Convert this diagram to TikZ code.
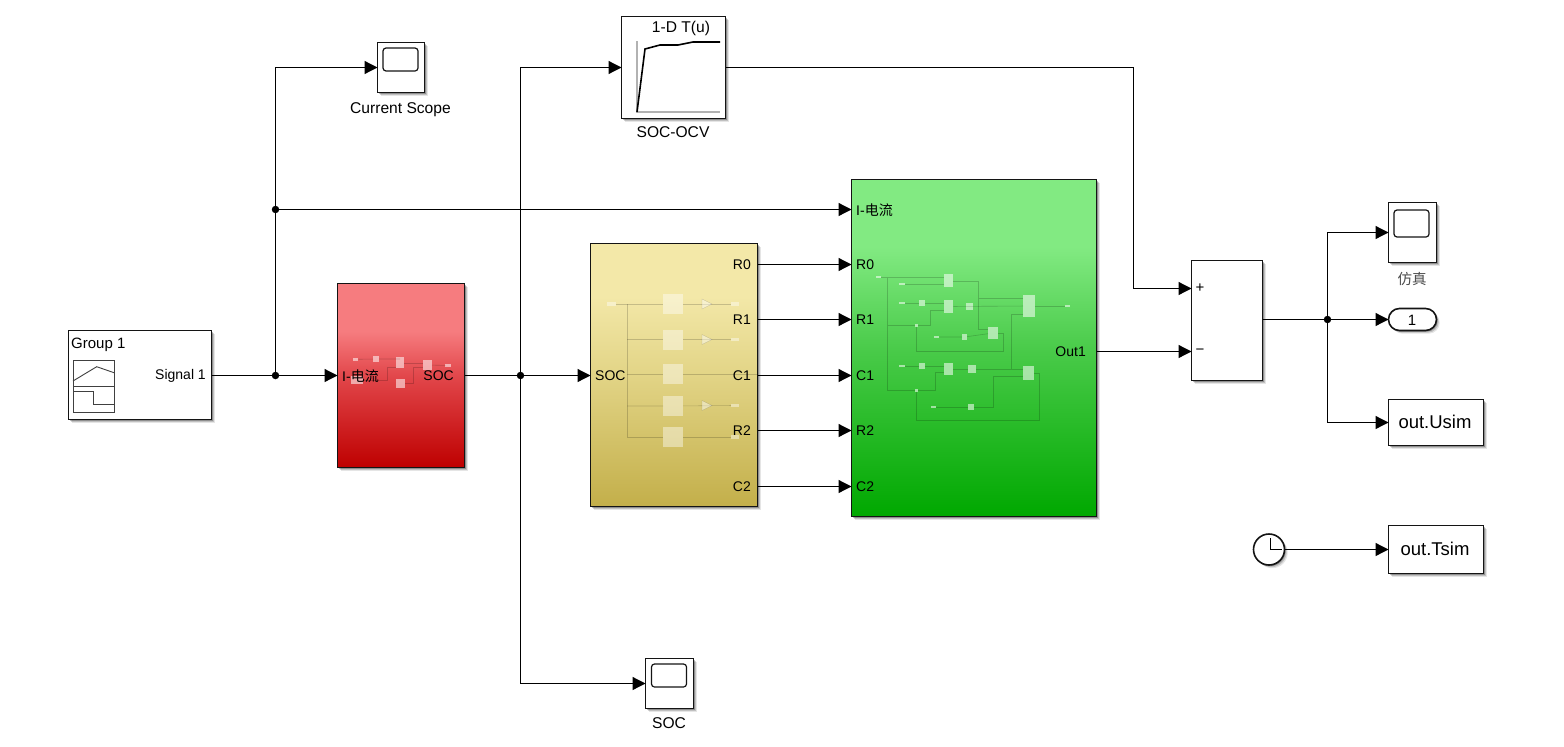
\documentclass[tikz,border=0pt]{standalone}
\usepackage{fontspec}
\setmainfont{Liberation Sans}
\newfontfamily\cjk{Noto Sans CJK SC}
\usetikzlibrary{arrows.meta,shadows,calc}
\definecolor{rT}{HTML}{F67C7F}\definecolor{rM}{HTML}{E2474B}\definecolor{rB}{HTML}{BE0000}
\definecolor{yT}{HTML}{F3E8A8}\definecolor{yM}{HTML}{E2D486}\definecolor{yB}{HTML}{C3AF4A}
\definecolor{gT}{HTML}{82EA82}\definecolor{gM}{HTML}{4ACB4A}\definecolor{gB}{HTML}{00A800}
\definecolor{edge}{HTML}{141414}
\pgfdeclareverticalshading{redgrad}{100bp}{color(0bp)=(rB);color(25bp)=(rB);color(50bp)=(rM);color(62bp)=(rT);color(75bp)=(rT);color(100bp)=(rT)}
\pgfdeclareverticalshading{yelgrad}{100bp}{color(0bp)=(yB);color(25bp)=(yB);color(50bp)=(yM);color(65bp)=(yT);color(75bp)=(yT);color(100bp)=(yT)}
\pgfdeclareverticalshading{grngrad}{100bp}{color(0bp)=(gB);color(25bp)=(gB);color(50bp)=(gM);color(65bp)=(gT);color(75bp)=(gT);color(100bp)=(gT)}
\tikzset{
  blockbox/.style={draw=edge,line width=1.6pt,fill=white,rectangle,inner sep=0pt,outer sep=0pt,anchor=north west,
    drop shadow={shadow xshift=3.2pt,shadow yshift=-3.2pt,opacity=.10,fill=black},
    drop shadow={shadow xshift=2.2pt,shadow yshift=-2.2pt,opacity=.16,fill=black},
    drop shadow={shadow xshift=1.2pt,shadow yshift=-1.2pt,opacity=.25,fill=black}},
  sig/.style={draw=black,line width=1.25pt,-{Triangle[length=13pt,width=13pt]}},
  wire/.style={draw=black,line width=1.25pt},
  jdot/.style={circle,fill=black,inner sep=0pt,minimum size=7.5pt},
  lab/.style={font=\fontsize{14}{14}\selectfont,inner sep=0pt,text=black},
  cap15/.style={font=\fontsize{15.6}{16}\selectfont,inner sep=0pt,text=black},
  big/.style={font=\fontsize{18.5}{19}\selectfont},
  screen/.style={draw=edge,line width=1.2pt,rounded corners=3pt,inner sep=0pt,minimum width=35pt},
  thumb/.style={fill=white,fill opacity=.55,inner sep=0pt,rectangle,outer sep=0pt},
  ythumb/.style={fill=white,fill opacity=.42,inner sep=0pt,rectangle,outer sep=0pt},
  twire/.style={draw=black,draw opacity=.18,line width=.6pt},
  tri/.style={fill=white,fill opacity=.45,draw=black,draw opacity=.18,line width=.4pt}
}
\newcommand{\thb}[5]{\node[thumb,minimum width=#4pt,minimum height=#5pt] (#1) at (#2,#3) {};}
\newcommand{\ythb}[5]{\node[ythumb,minimum width=#4pt,minimum height=#5pt] (#1) at (#2,#3) {};}
\begin{document}
\begin{tikzpicture}[x=1pt,y=-1pt]
\useasboundingbox (0,0) rectangle (1564,747);
\fill[white] (0,0) rectangle (1564,747);
% ---- main blocks
\node[blockbox,minimum width=143pt,minimum height=89pt] (grp) at (68.5,330.5) {};
\node[blockbox,minimum width=47pt,minimum height=50pt] (cs) at (377.5,42.5) {};
\node[blockbox,minimum width=104pt,minimum height=102pt] (lut) at (621.5,16.5) {};
\node[blockbox,minimum width=127pt,minimum height=184pt,shading=redgrad] (red) at (337.5,283.5) {};
\node[blockbox,minimum width=167pt,minimum height=263pt,shading=yelgrad] (yel) at (590.5,243.5) {};
\node[blockbox,minimum width=245pt,minimum height=337pt,shading=grngrad] (grn) at (851.5,179.5) {};
\node[blockbox,minimum width=71pt,minimum height=120pt] (sum) at (1191.5,260.5) {};
\node[blockbox,minimum width=48pt,minimum height=60pt] (sim) at (1388.5,202.5) {};
\node[blockbox,minimum width=48pt,minimum height=22pt,rounded corners=11pt] (oport) at (1388.5,308.5) {};
\node[blockbox,minimum width=95pt,minimum height=46pt] (usim) at (1388.5,399.5) {};
\node[blockbox,minimum width=95pt,minimum height=48pt] (tsim) at (1388.5,525.5) {};
\node[blockbox,minimum width=48pt,minimum height=50pt] (ss) at (645.5,658.5) {};
\node[blockbox,circle,anchor=center,minimum size=31pt] (clk) at (1269,549.5) {};
% ---- scope screens
\node[screen,minimum height=23pt] (csS) at (400.5,59.5) {};
\node[screen,minimum height=27pt] (simS) at (1411.5,223.5) {};
\node[screen,minimum height=23pt] (ssS) at (669,675.5) {};
% ---- signal builder icon
\coordinate (ic1) at (73,360); \coordinate (ic2) at (114,412);
\draw[draw=black!75,line width=.9pt] (ic1) rectangle (ic2);
\draw[draw=black!75,line width=.9pt] (73,386) -- (114,386);
\draw[draw=black!75,line width=.9pt] (73,381) -- (96.7,366.7) -- (114,372.7);
\draw[draw=black!75,line width=.9pt] (73,391.3) -- (93.3,391.3) -- (93.3,404.3) -- (114,404.3);
% ---- lookup icon
\draw[draw=black!30,line width=1.2pt] (637,41) -- (637,112) -- (720,112);
\draw[draw=black,line width=1.6pt] (637,112) -- (645,49) -- (660,45) -- (678,45) -- (693,42) -- (720,42);
% ---- clock hands
\draw[draw=black,line width=.9pt] (1270.7,538) -- (1270.7,549.3) -- (1281.7,549.3);
% ---- red thumbnail
\thb{rIn}{355.5}{359.3}{5.5}{2.5}\thb{rA}{376}{359}{6}{6}\thb{rS}{400}{362.5}{8}{11}
\thb{rL}{357}{380}{12}{8}\thb{rG}{400.5}{383.5}{9}{9}\thb{rP}{427.5}{365}{9}{10}\thb{rOut}{448}{365.5}{5.5}{2.5}
\draw[twire] (rIn) -- (rA) -- (rA -| rS);
\draw[twire] (rS.east |- 0,363) -- (rP.west |- 0,363);
\draw[twire] (rP) -- (rOut);
\draw[twire] (rL) -| (387,367) -- (rS.west |- 0,367);
\draw[twire] (rG) -| (413,367) -- (rP.west |- 0,367);
% ---- yellow thumbnail
\coordinate (yJ) at (627,304);\coordinate (yJb) at (627,437);
\ythb{yIn}{611.5}{304}{8.5}{3.5}
\ythb{y1}{673}{304}{20}{20}\ythb{y2}{673}{339.5}{20}{20}\ythb{y3}{673}{374}{20}{20}\ythb{y4}{673}{406}{20}{20}\ythb{y5}{673}{437}{20}{20}
\ythb{yo1}{735}{304}{8.5}{3.5}\ythb{yo2}{735}{339.5}{8.5}{3.5}\ythb{yo4}{735}{405.5}{8.5}{3.5}\ythb{yo5}{735}{437}{8.5}{3.5}
\draw[twire] (yIn) -- (yJ) -- (yJb) -- (y5) -- (yo5);
\draw[twire] (yJ) -- (y1) -- (yo1);
\draw[twire] (yJ |- y2) -- (y2) -- (yo2);
\draw[twire] (yJ |- y3) -- (y3) -- (yel.east |- y3);
\draw[twire] (yJ |- y4) -- (y4) -- (yo4);
\foreach \yy in {304,339.5,405.5}{\filldraw[tri] (702,\yy-5) -- (712,\yy) -- (702,\yy+5) -- cycle;}
% ---- green thumbnail
\thb{gI1}{878.5}{277}{5.5}{2.5}\thb{gI2}{902}{284}{6}{2.5}\thb{gI3}{902}{303}{6}{2.5}
\thb{gA}{922}{303}{6.5}{6.5}\thb{gS1}{948.5}{280.5}{9.5}{13.5}\thb{gS2}{948.5}{306.5}{9.5}{13}
\thb{gB}{969.5}{306.5}{7.5}{7.5}\thb{gC}{993}{333}{10}{12.5}\thb{gBig}{1029}{306}{12}{22.5}
\thb{gOut}{1067.5}{306}{5.5}{2.5}\thb{gI4}{936.5}{337}{5.5}{2.5}\thb{gD}{964.5}{337}{5.5}{6}
\thb{gI5}{902}{366}{6}{2.5}\thb{gE}{922}{366}{6.5}{6.5}\thb{gS3}{948.5}{369}{9.5}{12.5}\thb{gF}{972}{369}{8}{8}
\thb{gBig2}{1028.5}{373}{11}{14.5}\thb{gI6}{933.5}{407}{5.5}{2.5}\thb{gH}{971}{407}{6.5}{6.5}
\thb{gJ1}{916.5}{325.5}{3}{3}\thb{gJ2}{916.5}{390.5}{3}{3}
\coordinate (gT) at (887.7,277);\coordinate (gTb) at (887.7,390.5);
\coordinate (gU) at (978.5,281);\coordinate (gV) at (1011.5,314);
\draw[twire] (gI1) -- (gT) -- (gTb) -- (gJ2);
\draw[twire] (gT) -- (gS1.west |- gT);
\draw[twire] (gI2) -- (gS1.west |- gI2);
\draw[twire] (gS1.east |- gU) -- (gU) |- (gC.west |- 0,329.5);
\draw[twire] (gU |- 0,298.5) -- (gBig.west |- 0,298.5);
\draw[twire] (gI3) -- (gA) -- (gS2.west |- gA);
\draw[twire] (gS2) -- (gBig);
\draw[twire] (gT |- gJ1) -- (gJ1) -- (930.5,325.5) |- (gS2.west |- 0,310);
\draw[twire] (gJ1) |- (1003.5,351.5) |- (gC.east |- 0,333);
\draw[twire] (gI4) -- (gD) -- (gC);
\draw[twire] (gBig.west |- gV) -- (gV) -- (gV |- 0,369);
\draw[twire] (gI5) -- (gE) -- (gS3.west |- gE);
\draw[twire] (gS3) -- (gF) -- (gBig2.west |- gF);
\draw[twire] (gJ2) -- (935,390.5) |- (gS3.west |- 0,372.5);
\draw[twire] (gJ2) |- (1039.5,420.5) |- (gBig2.east |- 0,373);
\draw[twire] (gI6) -- (gH) -| (993.5,376) -- (gBig2.west |- 0,376);
\draw[twire] (gBig) -- (gOut);
% ---- labels
\node[lab,anchor=north west] (tGroup) at (71,338) {\fontsize{15}{15}\selectfont Group 1};
\node[lab,anchor=east] (tSig) at (206,376) {Signal 1};
\node[lab,anchor=west] (tRI) at (342,376) {I-{\cjk 电流}};
\node[lab,anchor=east] (tRO) at (454,376) {SOC};
\node[lab,anchor=west] (tYI) at (595,376) {SOC};
\node[lab,anchor=east] (tY0) at (751,265) {R0};
\node[lab,anchor=east] (tY1) at (751,320) {R1};
\node[lab,anchor=east] (tY2) at (751,376) {C1};
\node[lab,anchor=east] (tY3) at (751,431) {R2};
\node[lab,anchor=east] (tY4) at (751,487) {C2};
\node[lab,anchor=west] (tGI) at (856,210) {I-{\cjk 电流}};
\node[lab,anchor=west] (tG0) at (856,265) {R0};
\node[lab,anchor=west] (tG1) at (856,320) {R1};
\node[lab,anchor=west] (tG2) at (856,376) {C1};
\node[lab,anchor=west] (tG3) at (856,431) {R2};
\node[lab,anchor=west] (tG4) at (856,487) {C2};
\node[lab,anchor=east] (tOut) at (1086,352) {Out1};
\node[lab,anchor=west] (tPlus) at (1195.5,288.5) {\fontsize{15}{15}\selectfont +};
\node[lab,anchor=west] (tMinus) at (1195.5,351.5) {\fontsize{15}{15}\selectfont −};
\node[cap15] (tLut) at (681,28) {1-D T(u)};
\node[cap15] (tSO) at (673,132) {SOC-OCV};
\node[cap15] (tCS) at (400.5,109.5) {Current Scope};
\node[cap15] (tSS) at (669,723) {SOC};
\node[lab,text=black!70,font=\fontsize{14.5}{15}\selectfont] (tSim) at (1412,279) {\cjk 仿真};
\node[lab] (tOne) at (1412,320) {\fontsize{15}{15}\selectfont 1};
\node[inner sep=0pt,big] (tU) at (1435,421.5) {out.Usim};
\node[inner sep=0pt,big] (tT) at (1435,548.5) {out.Tsim};
% ---- connectors
\coordinate (j1) at (275.5,375.5);
\coordinate (j2) at (520.5,375.5);
\coordinate (j3) at (1327.5,319.5);
\coordinate (iy) at (275.5,209.5);
\coordinate (p0) at (0,264.5);\coordinate (p1) at (0,319.5);\coordinate (p2) at (0,375.5);\coordinate (p3) at (0,430.5);\coordinate (p4) at (0,486.5);
\coordinate (spl) at (1133.5,288.5);\coordinate (smi) at (0,351.5);
\draw[wire] (grp.east |- j1) -- (j1);
\draw[sig] (j1) -- (red.west |- j1);
\draw[sig] (j1) |- (cs.west);
\draw[sig] (iy) -- (grn.west |- iy);
\draw[wire] (red.east |- j2) -- (j2);
\draw[sig] (j2) -- (yel.west |- j2);
\draw[sig] (j2) |- (lut.west);
\draw[sig] (j2) |- (ss.west);
\draw[sig] (yel.east |- p0) -- (grn.west |- p0);
\draw[sig] (yel.east |- p1) -- (grn.west |- p1);
\draw[sig] (yel.east |- p2) -- (grn.west |- p2);
\draw[sig] (yel.east |- p3) -- (grn.west |- p3);
\draw[sig] (yel.east |- p4) -- (grn.west |- p4);
\draw[wire] (lut.east) -| (spl);
\draw[sig] (spl) -- (sum.west |- spl);
\draw[sig] (grn.east |- smi) -- (sum.west |- smi);
\draw[wire] (sum.east |- j3) -- (j3);
\draw[sig] (j3) |- (sim.west);
\draw[sig] (j3) -- (oport.west |- j3);
\draw[sig] (j3) |- (usim.west);
\draw[sig] (clk.east) -- (tsim.west);
\node[jdot] (d1) at (j1) {};
\node[jdot] (d2) at (iy) {};
\node[jdot] (d3) at (j2) {};
\node[jdot] (d4) at (j3) {};
\end{tikzpicture}
\end{document}
